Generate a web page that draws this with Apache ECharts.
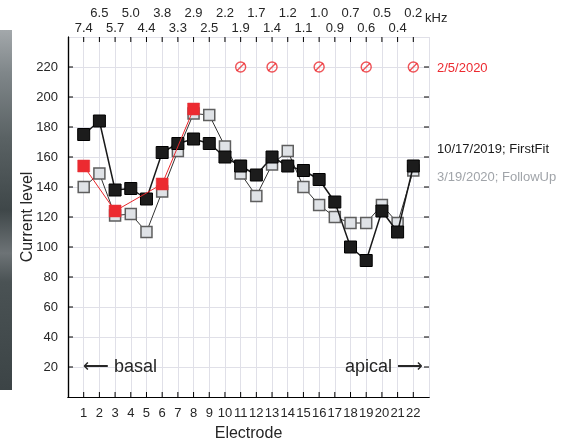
<!DOCTYPE html>
<html>
<head>
<meta charset="utf-8">
<script src="https://cdn.jsdelivr.net/npm/echarts@6/dist/echarts.min.js"></script>
<style>
  html, body { margin: 0; padding: 0; background: #fff; }
  #chart { width: 576px; height: 443px; }
</style>
</head>
<body>
<div id="chart"></div>
<script>
// Electrode numbers along the array
const electrodes = [1,2,3,4,5,6,7,8,9,10,11,12,13,14,15,16,17,18,19,20,21,22];

// Current levels per electrode for each fitting session
const firstFit = [175,184,138,139,132,163,169,172,169,160,154,148,160,154,151,145,130,100,91,124,110,154];
const followUp = [140,149,121,122,110,137,164,189,188,167,149,134,155,164,140,128,120,116,116,128,116,151];

// 2/5/2020 session: measured electrodes and their levels
const feb2020Electrodes = [1, 3, 6, 8];
const feb2020Levels = [154, 124, 142, 192];
// Electrodes flagged as not measured in that session
const feb2020Skipped = [11, 13, 16, 19, 22];
const skippedMarkLevel = 220;

// Characteristic frequencies (kHz) for each electrode
const freqKHz = ['7.4','6.5','5.7','5.0','4.4','3.8','3.3','2.9','2.5','2.2','1.9','1.7','1.4','1.2','1.1','1.0','0.9','0.7','0.6','0.5','0.4','0.2'];

const yTicks = [20,40,60,80,100,120,140,160,180,200,220];

const textColor = '#262626';
const font = '"Liberation Sans", Arial, Helvetica, sans-serif';
const tickLen = 5;

const chart = echarts.init(document.getElementById('chart'), null, { renderer: 'canvas' });

function pairs(xs, ys) { return xs.map((x, i) => [x, ys[i]]); }

function freqLabel(parity) {
  return function (v) {
    const i = Math.round(v);
    if (i < 1 || i > 22 || i % 2 !== parity) return '';
    return freqKHz[i - 1];
  };
}

// Inward-pointing tick marks on all four sides of the box
const tickItems = electrodes.map(e => [0, e]).concat(yTicks.map(v => [1, v]));
function renderTick(params, api) {
  const cs = params.coordSys;
  const isX = api.value(0) === 0;
  const v = api.value(1);
  const style = { stroke: '#000', lineWidth: 1 };
  if (isX) {
    const x = api.coord([v, 0])[0];
    return { type: 'group', children: [
      { type: 'line', shape: { x1: x, y1: cs.y + cs.height, x2: x, y2: cs.y + cs.height - tickLen }, style },
      { type: 'line', shape: { x1: x, y1: cs.y, x2: x, y2: cs.y + tickLen }, style }
    ] };
  }
  const y = api.coord([0, v])[1];
  return { type: 'group', children: [
    { type: 'line', shape: { x1: cs.x, y1: y, x2: cs.x + tickLen, y2: y }, style },
    { type: 'line', shape: { x1: cs.x + cs.width, y1: y, x2: cs.x + cs.width - tickLen, y2: y }, style }
  ] };
}

const gridLine = { show: true, lineStyle: { color: '#e0e0e8', width: 1 } };

const option = {
  animation: false,
  grid: { left: 68, right: 147, top: 37, bottom: 46, containLabel: false, outerBoundsMode: 'none' },
  xAxis: [
    {
      type: 'value', min: 0, max: 23, interval: 1, position: 'bottom',
      name: 'Electrode', nameLocation: 'middle', nameGap: 29, nameMoveOverlap: false,
      nameTextStyle: { color: textColor, fontSize: 16, fontFamily: font },
      axisLine: { show: true, lineStyle: { color: '#000', width: 1.2 } },
      axisTick: { show: false },
      axisLabel: {
        color: textColor, fontSize: 13, fontFamily: font, margin: 10,
        formatter: v => (v >= 1 && v <= 22 ? String(v) : '')
      },
      splitLine: gridLine
    },
    {
      type: 'value', min: 0, max: 23, interval: 1, position: 'top',
      axisLine: { show: true, lineStyle: { color: '#000', width: 1.2 } },
      axisTick: { show: false },
      axisLabel: { color: textColor, fontSize: 13, fontFamily: font, margin: 2, formatter: freqLabel(1) },
      splitLine: { show: false }
    },
    {
      type: 'value', min: 0, max: 23, interval: 1, position: 'top',
      axisLine: { show: false }, axisTick: { show: false },
      axisLabel: { color: textColor, fontSize: 13, fontFamily: font, margin: 17, formatter: freqLabel(0) },
      splitLine: { show: false }
    }
  ],
  yAxis: [
    {
      type: 'value', min: 0, max: 240, interval: 20, position: 'left',
      name: 'Current level', nameLocation: 'middle', nameGap: 32, nameRotate: 90, nameMoveOverlap: false,
      nameTextStyle: { color: textColor, fontSize: 16, fontFamily: font },
      axisLine: { show: true, lineStyle: { color: '#000', width: 1.2 } },
      axisTick: { show: false },
      axisLabel: {
        color: textColor, fontSize: 13, fontFamily: font, margin: 10,
        formatter: v => (yTicks.indexOf(v) >= 0 ? String(v) : '')
      },
      splitLine: gridLine
    },
    {
      type: 'value', min: 0, max: 240, interval: 20, position: 'right',
      axisLine: { show: true, lineStyle: { color: '#000', width: 1.2 } },
      axisTick: { show: false },
      axisLabel: { show: false },
      splitLine: { show: false }
    }
  ],
  series: [
    {
      type: 'custom', z: 1, silent: true, clip: false,
      xAxisIndex: 0, yAxisIndex: 0,
      data: tickItems,
      renderItem: renderTick
    },
    {
      name: '3/19/2020; FollowUp', type: 'line', z: 2,
      data: pairs(electrodes, followUp),
      symbol: 'rect', symbolSize: 11,
      lineStyle: { color: '#333', width: 1 },
      itemStyle: { color: '#dfe2e6', borderColor: '#5e5e5e', borderWidth: 1.5 }
    },
    {
      name: '10/17/2019; FirstFit', type: 'line', z: 3,
      data: pairs(electrodes, firstFit),
      symbol: 'rect', symbolSize: 12,
      lineStyle: { color: '#1a1a1a', width: 1.5 },
      itemStyle: { color: '#1c1c1c', borderColor: '#000', borderWidth: 1 }
    },
    {
      name: '2/5/2020', type: 'line', z: 4,
      data: pairs(feb2020Electrodes, feb2020Levels),
      symbol: 'rect', symbolSize: 12,
      lineStyle: { color: '#e8262b', width: 1 },
      itemStyle: { color: '#ec2a30', borderColor: '#e0343a', borderWidth: 0.5 }
    },
    {
      // ring of the "not measured" marks
      type: 'scatter', z: 4,
      data: feb2020Skipped.map(e => [e, skippedMarkLevel]),
      symbol: 'circle', symbolSize: 10,
      itemStyle: { color: 'rgba(0,0,0,0)', borderColor: '#ec2a30', borderWidth: 1.4 }
    },
    {
      // slash of the "not measured" marks
      type: 'scatter', z: 4,
      data: feb2020Skipped.map(e => [e, skippedMarkLevel]),
      symbol: 'path://M0,10L10,0', symbolSize: 8,
      itemStyle: { color: 'rgba(0,0,0,0)', borderColor: '#ec2a30', borderWidth: 1.4 }
    }
  ],
  graphic: [
    {
      type: 'rect', left: 0, top: 30, z: 0,
      shape: { width: 12, height: 360 },
      style: {
        fill: new echarts.graphic.LinearGradient(0, 0, 0, 1, [
          { offset: 0, color: '#a3a8ab' },
          { offset: 0.12, color: '#7f8689' },
          { offset: 0.3, color: '#5a6264' },
          { offset: 0.5, color: '#3f4749' },
          { offset: 0.62, color: '#6d7376' },
          { offset: 0.7, color: '#4a5254' },
          { offset: 1, color: '#3c4446' }
        ])
      }
    },
    { type: 'text', left: 425, top: 12, style: { text: 'kHz', fill: textColor, font: '13px ' + font } },
    { type: 'text', left: 437, top: 62, style: { text: '2/5/2020', fill: '#ec2a30', font: '13px ' + font } },
    { type: 'text', left: 437, top: 143, style: { text: '10/17/2019; FirstFit', fill: '#1a1a1a', font: '13px ' + font } },
    { type: 'text', left: 437, top: 171, style: { text: '3/19/2020; FollowUp', fill: '#a0a4a9', font: '13px ' + font } },
    { type: 'text', left: 83, top: 358, z: 10, style: { text: '\u27F5 basal', fill: textColor, font: '18px ' + font } },
    { type: 'text', left: 345, top: 358, z: 10, style: { text: 'apical \u27F6', fill: textColor, font: '18px ' + font } }
  ]
};

chart.setOption(option);
</script>
</body>
</html>
